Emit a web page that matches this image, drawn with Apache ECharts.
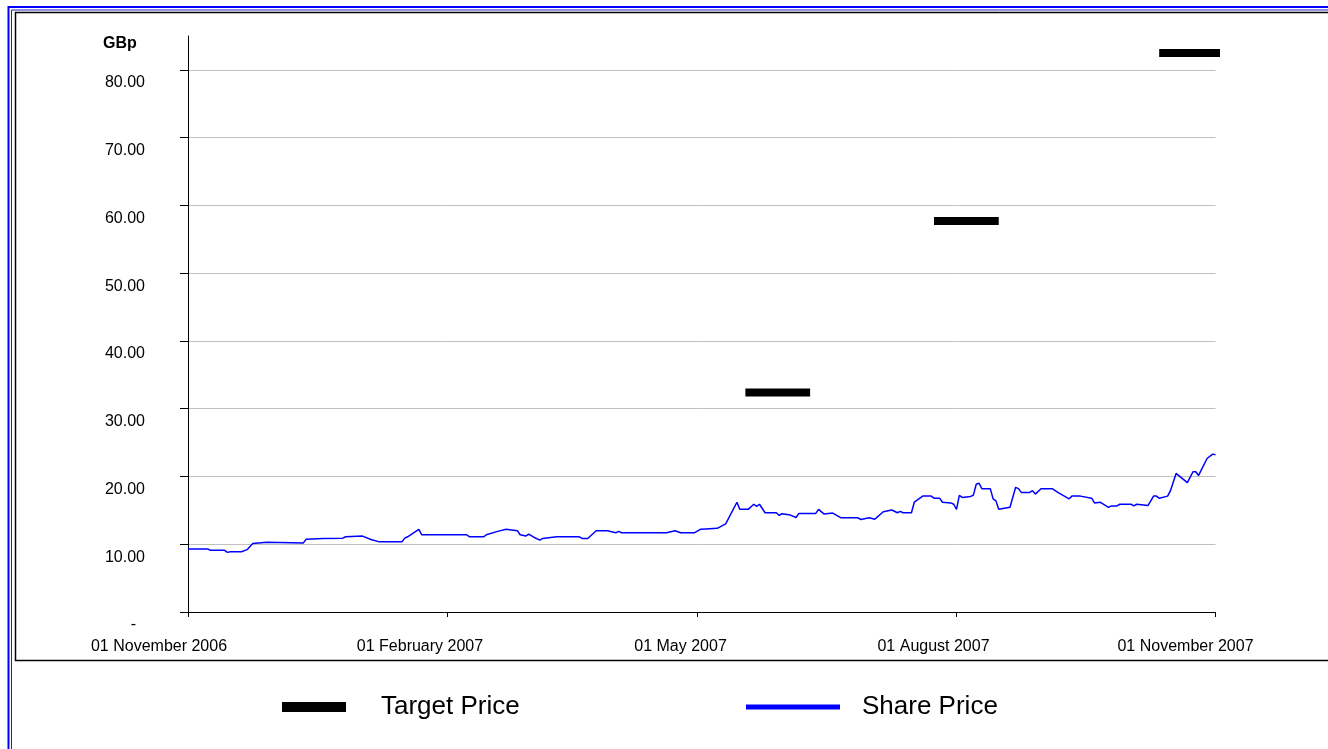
<!DOCTYPE html>
<html>
<head>
<meta charset="utf-8">
<script src="https://cdn.jsdelivr.net/npm/echarts@6/dist/echarts.min.js"></script>
<style>
html,body{margin:0;padding:0;background:#fff;}
#chart{width:1328px;height:749px;}
</style>
</head>
<body>
<div id="chart"></div>
<script>
// ---- data ----
const priceDates = [
'2006-11-01','2006-11-08','2006-11-09','2006-11-14','2006-11-15','2006-11-16','2006-11-20','2006-11-22','2006-11-24','2006-11-29',
'2006-12-12','2006-12-13','2006-12-19','2006-12-26','2006-12-27','2007-01-02','2007-01-05','2007-01-08','2007-01-16','2007-01-17',
'2007-01-18','2007-01-22','2007-01-23','2007-02-02','2007-02-08','2007-02-09','2007-02-14','2007-02-15','2007-02-19','2007-02-22',
'2007-02-26','2007-02-27','2007-03-01','2007-03-02','2007-03-04','2007-03-06','2007-03-07','2007-03-12','2007-03-20','2007-03-21',
'2007-03-23','2007-03-26','2007-03-30','2007-04-02','2007-04-03','2007-04-04','2007-04-20','2007-04-23','2007-04-25','2007-04-30',
'2007-05-02','2007-05-04','2007-05-08','2007-05-11','2007-05-15','2007-05-16','2007-05-19','2007-05-21','2007-05-22','2007-05-23',
'2007-05-25','2007-05-29','2007-05-30','2007-05-31','2007-06-03','2007-06-05','2007-06-06','2007-06-12','2007-06-13','2007-06-15',
'2007-06-18','2007-06-21','2007-06-27','2007-06-28','2007-07-01','2007-07-03','2007-07-06','2007-07-09','2007-07-11','2007-07-12',
'2007-07-13','2007-07-16','2007-07-17','2007-07-20','2007-07-23','2007-07-24','2007-07-26','2007-07-27','2007-07-30','2007-07-31',
'2007-08-01','2007-08-02','2007-08-03','2007-08-06','2007-08-07','2007-08-08','2007-08-09','2007-08-10','2007-08-13','2007-08-14',
'2007-08-15','2007-08-16','2007-08-20','2007-08-22','2007-08-23','2007-08-24','2007-08-27','2007-08-28','2007-08-29','2007-08-31',
'2007-09-04','2007-09-06','2007-09-10','2007-09-11','2007-09-14','2007-09-18','2007-09-19','2007-09-21','2007-09-24','2007-09-25',
'2007-09-27','2007-09-28','2007-10-02','2007-10-03','2007-10-04','2007-10-08','2007-10-10','2007-10-11','2007-10-12','2007-10-15',
'2007-10-16','2007-10-18','2007-10-22','2007-10-24','2007-10-25','2007-10-26','2007-10-29','2007-10-31','2007-11-01'
];
const priceValues = [
9.3,9.3,9.1,9.1,8.8,8.9,8.9,9.2,10.1,10.3,
10.2,10.75,10.85,10.9,11.1,11.2,10.7,10.35,10.35,10.9,
11.1,12.2,11.4,11.4,11.4,11.1,11.1,11.4,11.9,12.2,
12.0,11.4,11.2,11.5,11.0,10.6,10.85,11.1,11.1,10.85,
10.85,12.0,12.0,11.7,11.9,11.7,11.7,12.0,11.7,11.7,
12.2,12.25,12.35,13.0,16.2,15.15,15.15,15.9,15.6,15.9,
14.65,14.65,14.25,14.5,14.3,13.95,14.55,14.55,15.15,14.45,
14.6,13.9,13.9,13.65,13.9,13.7,14.8,15.05,14.65,14.85,
14.65,14.65,16.2,17.1,17.1,16.8,16.8,16.2,16.1,15.9,
15.15,17.2,16.9,17.05,17.25,18.85,19.0,18.2,18.2,16.7,
16.4,15.15,15.45,18.4,18.2,17.65,17.65,17.9,17.4,18.2,
18.2,17.65,16.7,17.1,17.1,16.8,16.1,16.2,15.45,15.65,
15.65,15.9,15.9,15.65,15.9,15.7,17.1,17.1,16.8,17.1,
17.9,20.45,19.1,20.7,20.7,20.15,22.65,23.3,23.2
];
const targetStarts = ['2007-05-18','2007-07-24','2007-10-12'];
const targetEnds   = ['2007-06-10','2007-08-16','2007-11-04'];
const targetValues = [32.4, 57.7, 82.5];

const yTickValues = [0,10,20,30,40,50,60,70,80];
const yTickLabels = ['-  ','10.00','20.00','30.00','40.00','50.00','60.00','70.00','80.00'];
const xTickDates  = ['2006-11-01','2007-02-01','2007-05-01','2007-08-01','2007-11-01'];
const xTickLabels = ['01 November 2006','01 February 2007','01 May 2007','01 August 2007','01 November 2007'];
const seriesNames = ['Target Price','Share Price'];

// ---- build ----
const P = s => echarts.number.parseDate(s).getTime();
const xTickTs = xTickDates.map(P);
const priceData = priceDates.map((d,i)=>[P(d), priceValues[i]]);
const targetData = [];
targetValues.forEach((v,i)=>{
  targetData.push([P(targetStarts[i]), v]);
  targetData.push([P(targetEnds[i]), v]);
  targetData.push([P(targetEnds[i]) + 1, null]);
});

const FONT = '"Liberation Sans", Arial, sans-serif';
const labelShift = [58,54,34,46,60];
const rich = {};
labelShift.forEach((p,i)=>{ rich['o'+i] = {padding:[0,p,0,0], fontSize:16, color:'#000', fontFamily:FONT}; });

const chart = echarts.init(document.getElementById('chart'), null, {renderer:'canvas'});
chart.setOption({
  animation:false,
  backgroundColor:'#fff',
  textStyle:{fontFamily:FONT},
  graphic:[
    {type:'rect', shape:{x:8.5,y:7,width:1340,height:760}, style:{fill:null, stroke:'#0000ff', lineWidth:2}, silent:true},
    {type:'rect', shape:{x:11.5,y:10,width:1340,height:760}, style:{fill:null, stroke:'#2020c0', lineWidth:1}, silent:true},
    {type:'rect', shape:{x:15.5,y:12.5,width:1340,height:648}, style:{fill:null, stroke:'#000', lineWidth:1.5}, silent:true}
  ],
  title:{
    text:'GBp', left:103, top:36, padding:0,
    textStyle:{fontSize:16, fontWeight:'bold', color:'#000', fontFamily:FONT}
  },
  legend:[
    {data:[{name:seriesNames[0], icon:'rect', itemStyle:{color:'#000'}}],
     left:282, top:694, padding:0, itemWidth:64, itemHeight:10, selectedMode:false,
     textStyle:{fontSize:26, color:'#000', fontFamily:FONT, padding:[0,0,0,30]}},
    {data:[{name:seriesNames[1], icon:'rect', itemStyle:{color:'#0000ff'}}],
     left:746, top:694, padding:0, itemWidth:94, itemHeight:5, selectedMode:false,
     textStyle:{fontSize:26, color:'#000', fontFamily:FONT, padding:[0,0,0,17]}}
  ],
  grid:{left:188, right:112.5, top:36, bottom:137, outerBoundsMode:'none', containLabel:false},
  xAxis:{
    type:'value',
    min:P('2006-11-01'), max:P('2007-11-01'),
    axisLine:{show:true, onZero:false, lineStyle:{color:'#000', width:1}},
    axisTick:{show:true, length:5, customValues:xTickTs, lineStyle:{color:'#000'}},
    axisLabel:{
      customValues:xTickTs, margin:27, hideOverlap:false,
      formatter:function(v){
        const i = xTickTs.indexOf(v);
        return i>=0 ? '{o'+i+'|'+xTickLabels[i]+'}' : '';
      },
      rich:rich
    },
    splitLine:{show:false}
  },
  yAxis:{
    type:'value', min:0, max:85,
    axisLine:{show:true, lineStyle:{color:'#000', width:1}},
    axisTick:{show:true, length:8, customValues:yTickValues, lineStyle:{color:'#000'}},
    axisLabel:{
      customValues:yTickValues, margin:43, align:'right', verticalAlign:'top',
      padding:[5,0,0,0], fontSize:16, color:'#000', fontFamily:FONT,
      formatter:function(v){ const i = yTickValues.indexOf(v); return i>=0 ? yTickLabels[i] : ''; }
    },
    splitLine:{show:true, lineStyle:{color:'#c0c0c0', width:1}}
  },
  series:[
    {name:seriesNames[0], type:'line', data:targetData, showSymbol:false, symbol:'none',
     connectNulls:false, clip:false, lineStyle:{color:'#000', width:8, cap:'butt'}, itemStyle:{color:'#000'}, z:3},
    {name:seriesNames[1], type:'line', data:priceData, showSymbol:false, symbol:'none',
     lineStyle:{color:'#0000ff', width:1.5}, itemStyle:{color:'#0000ff'}, z:2}
  ]
});
</script>
</body>
</html>
